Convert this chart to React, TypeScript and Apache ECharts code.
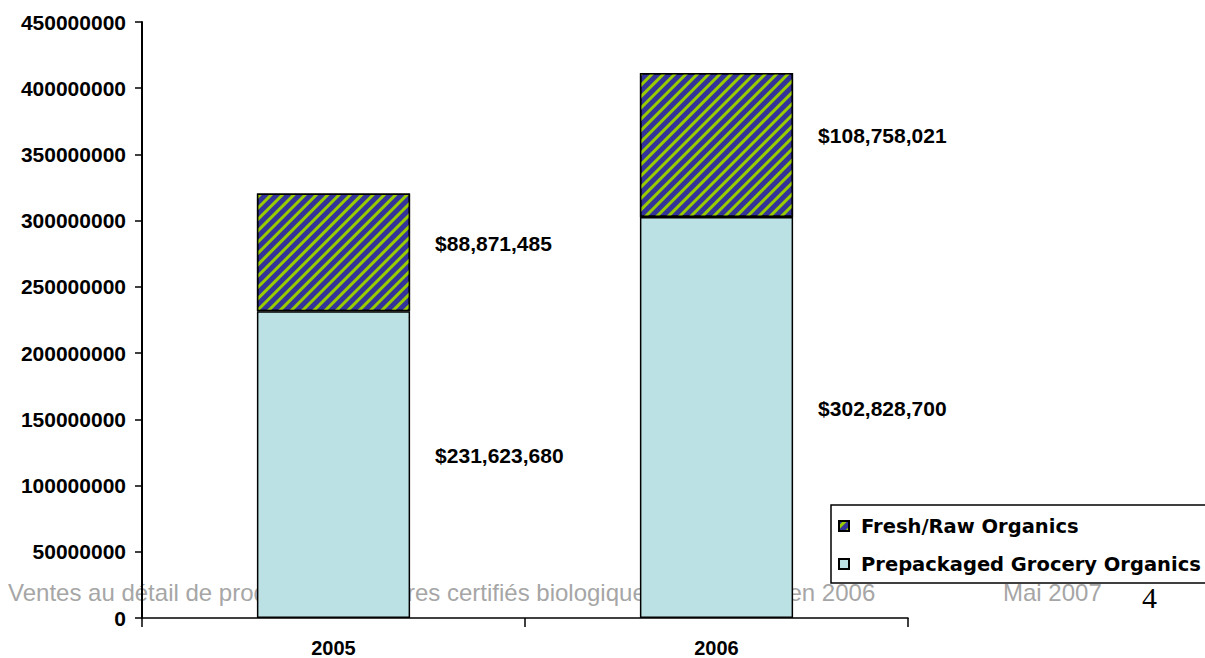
import React, { useEffect, useRef } from "react";
import * as echarts from "echarts";

const years = ["2005", "2006"];
const prepackaged = [231623680, 302828700];
const freshRaw = [88871485, 108758021];
const seriesNames = ["Prepackaged Grocery Organics", "Fresh/Raw Organics"];
const legendOrder = ["Fresh/Raw Organics", "Prepackaged Grocery Organics"];
const footerTitle = "Ventes au détail de produits alimentaires certifiés biologiques au Canada en 2006";
const footerDate = "Mai 2007";
const pageNumber = "4";

const fmt = (v: number) => "$" + v.toLocaleString("en-US");

export default function App() {
  const ref = useRef<HTMLDivElement>(null);
  useEffect(() => {
    if (!ref.current) return;
    const chart = echarts.init(ref.current, null, { renderer: "svg" });
    const labelBase = {
      show: true,
      position: "right",
      distance: 25,
      offset: [0, -9],
      color: "#000",
      fontFamily: "Arial",
      fontWeight: "bold",
      fontSize: 21,
      formatter: (p: any) => fmt(p.value),
    };
    chart.setOption({
      animation: false,
      backgroundColor: "#fff",
      grid: { left: 142, right: 297, top: 22, bottom: 40, containLabel: false },
      legend: {
        data: legendOrder,
        orient: "vertical",
        left: 831,
        top: 505,
        selectedMode: false,
        borderColor: "#000",
        borderWidth: 1.5,
        backgroundColor: "#fff",
        padding: [11, 60, 9, 7],
        itemGap: 18,
        itemWidth: 24,
        itemHeight: 10,
        icon: "path://M0,0h10v10h-10z",
        textStyle: {
          fontFamily: "DejaVu Sans",
          fontWeight: "bold",
          fontSize: 19.5,
          color: "#000",
        },
      },
      xAxis: {
        type: "category",
        data: years,
        axisLine: { lineStyle: { color: "#000", width: 1.5 } },
        axisTick: { show: true, length: 9, lineStyle: { color: "#000", width: 1.5 } },
        axisLabel: {
          color: "#000",
          fontFamily: "Arial",
          fontWeight: "bold",
          fontSize: 20,
          margin: 20,
        },
      },
      yAxis: {
        type: "value",
        min: 0,
        max: 450000000,
        interval: 50000000,
        splitLine: { show: false },
        axisLine: { show: true, lineStyle: { color: "#000", width: 2 } },
        axisTick: { show: true, length: 7, lineStyle: { color: "#000", width: 1.5 } },
        axisLabel: {
          color: "#000",
          fontFamily: "Arial",
          fontWeight: "bold",
          fontSize: 21,
          margin: 16,
          formatter: (v: number) => String(v),
        },
      },
      graphic: [
        {
          type: "text",
          left: 8,
          top: 580,
          z: 0,
          style: { text: footerTitle, fill: "#A6A6A6", font: "24px Arial" },
        },
        {
          type: "text",
          left: 1003,
          top: 580,
          z: 0,
          style: { text: footerDate, fill: "#A6A6A6", font: "24px Arial" },
        },
        {
          type: "text",
          left: 1142,
          top: 582,
          z: 0,
          style: { text: pageNumber, fill: "#000", font: "30px 'Liberation Serif', 'Times New Roman'" },
        },
      ],
      series: [
        {
          name: seriesNames[0],
          type: "bar",
          stack: "total",
          barWidth: "40%",
          data: prepackaged,
          itemStyle: { color: "#BCE1E4", borderColor: "#000", borderWidth: 1.5 },
          label: labelBase,
        },
        {
          name: seriesNames[1],
          type: "bar",
          stack: "total",
          barWidth: "40%",
          data: freshRaw,
          itemStyle: {
            color: "#333399",
            borderColor: "#000",
            borderWidth: 1.5,
            decal: {
              symbol: "rect",
              color: "#99CC00",
              dashArrayX: [1, 0],
              dashArrayY: [3, 5],
              rotation: -Math.PI / 4,
            },
          },
          label: labelBase,
        },
      ],
    });
    return () => chart.dispose();
  }, []);
  return <div ref={ref} style={{ width: 1205, height: 658, position: "absolute", left: 0, top: 0 }} />;
}
